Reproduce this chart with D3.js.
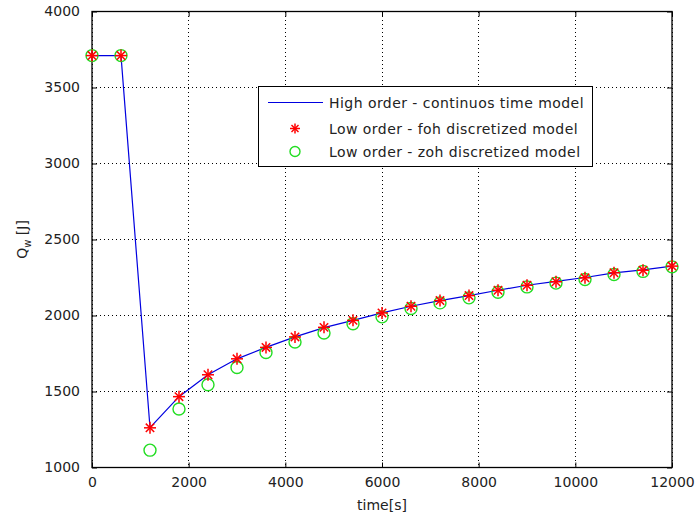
<!DOCTYPE html>
<html><head><meta charset="utf-8">
<script src="https://cdn.jsdelivr.net/npm/d3@7"></script>
<style>
body{margin:0;background:#fff;}
svg{display:block;font-family:"DejaVu Sans",sans-serif;}
</style></head>
<body><svg id="c" width="695" height="520"></svg>
<script>
// time points [s]
const times = [0,600,1200,1800,2400,3000,3600,4200,4800,5400,6000,6600,7200,7800,8400,9000,9600,10200,10800,11400,12000];
// High order - continuous time model
const highOrder = [3710,3710,1262,1466,1610,1715,1790,1859,1920,1968,2017,2061,2098,2131,2166,2199,2224,2250,2280,2300,2325];
// Low order - foh discretized
const fohValues = [3710,3710,1261,1466,1610,1715,1790,1859,1922,1968,2017,2061,2098,2131,2166,2199,2222,2248,2281,2298,2325];
// Low order - zoh discretized
const zohValues = [3710,3710,1114,1385,1544,1658,1757,1826,1885,1946,1991,2046,2083,2116,2153,2188,2213,2237,2270,2290,2320];
const xTicks = [0,2000,4000,6000,8000,10000,12000];
const yTicks = [1000,1500,2000,2500,3000,3500,4000];
const legendLabels = ["High order - continuos time model","Low order - foh discretized model","Low order - zoh discretized model"];

const svg = d3.select("#c");
const L=92,R=672,T=11.5,B=467.5;
const x = d3.scaleLinear().domain([0,12000]).range([L,R]);
const y = d3.scaleLinear().domain([1000,4000]).range([B,T]);
const fs = 14;
const ff = '"DejaVu Sans",sans-serif';

// grid
const g = svg.append("g");
g.selectAll(".gx").data(xTicks).enter().append("line")
 .attr("x1",d=>x(d)).attr("x2",d=>x(d)).attr("y1",T).attr("y2",B)
 .attr("stroke","#000").attr("stroke-width",1).attr("stroke-dasharray","1,3").attr("shape-rendering","crispEdges");
g.selectAll(".gy").data(yTicks).enter().append("line")
 .attr("y1",d=>y(d)).attr("y2",d=>y(d)).attr("x1",L).attr("x2",R)
 .attr("stroke","#000").attr("stroke-width",1).attr("stroke-dasharray","1,3").attr("shape-rendering","crispEdges");

// axes
const axB = d3.axisBottom(x).tickValues(xTicks).tickSizeInner(-5).tickSizeOuter(0).tickPadding(10).tickFormat(d3.format("d"));
const axL = d3.axisLeft(y).tickValues(yTicks).tickSizeInner(-5).tickSizeOuter(0).tickPadding(12).tickFormat(d3.format("d"));
const axT = d3.axisTop(x).tickValues(xTicks).tickSizeInner(-5).tickSizeOuter(0).tickFormat("");
const axR = d3.axisRight(y).tickValues(yTicks).tickSizeInner(-5).tickSizeOuter(0).tickFormat("");
function style(sel){
  sel.selectAll("path").remove();
  sel.selectAll("line").attr("stroke","#000");
  sel.selectAll("text").attr("fill","#222").style("font-size",fs+"px").style("font-family",ff);
}
svg.append("g").attr("transform",`translate(0,${B})`).call(axB).call(style);
svg.append("g").attr("transform",`translate(${L},0)`).call(axL).call(style);
svg.append("g").attr("transform",`translate(0,${T})`).call(axT).call(style);
svg.append("g").attr("transform",`translate(${R},0)`).call(axR).call(style);
svg.append("rect").attr("x",L).attr("y",T).attr("width",R-L).attr("height",B-T)
 .attr("fill","none").attr("stroke","#000").attr("stroke-width",1.3);

// line
svg.append("path").datum(times.map((t,i)=>[t,highOrder[i]]))
 .attr("d",d3.line().x(d=>x(d[0])).y(d=>y(d[1])))
 .attr("fill","none").attr("stroke","#0000e0").attr("stroke-width",1.2);

function star(sel,cx,cy,s){
  const gg = sel.append("g").attr("transform",`translate(${cx},${cy})`).attr("stroke","#ff0000").attr("stroke-width",1.5);
  gg.append("line").attr("x1",-s).attr("x2",s).attr("y1",0).attr("y2",0);
  gg.append("line").attr("x1",0).attr("x2",0).attr("y1",-s).attr("y2",s);
  const k=s*0.7;
  gg.append("line").attr("x1",-k).attr("x2",k).attr("y1",-k).attr("y2",k);
  gg.append("line").attr("x1",-k).attr("x2",k).attr("y1",k).attr("y2",-k);
}
// zoh circles
svg.append("g").selectAll("circle").data(times.map((t,i)=>[t,zohValues[i]])).enter().append("circle")
 .attr("cx",d=>x(d[0])).attr("cy",d=>y(d[1])).attr("r",6)
 .attr("fill","none").attr("stroke","#22dd22").attr("stroke-width",1.4);
// foh stars
const sg = svg.append("g");
times.forEach((t,i)=>star(sg,x(t),y(fohValues[i]),6));

// labels
svg.append("text").attr("x",x(6000)).attr("y",510).attr("text-anchor","middle")
 .style("font-size",fs+"px").style("font-family",ff).attr("fill","#222").text("time[s]");
const yl = svg.append("text").attr("transform",`translate(27,${(T+B)/2}) rotate(-90)`).attr("text-anchor","middle")
 .style("font-size",fs+"px").style("font-family",ff).attr("fill","#222");
yl.append("tspan").text("Q");
yl.append("tspan").attr("dy",4).style("font-size","10px").text("w");
yl.append("tspan").attr("dy",-4).text(" [J]");

// legend
const lg = svg.append("g");
lg.append("rect").attr("x",258.5).attr("y",86.5).attr("width",334).attr("height",80)
 .attr("fill","#fff").attr("stroke","#000").attr("stroke-width",1);
const rows=[102.5,128.5,151.5];
lg.append("line").attr("x1",268).attr("x2",323).attr("y1",rows[0]).attr("y2",rows[0]).attr("stroke","#0000e0").attr("stroke-width",1.2);
star(lg,295,rows[1],5);
lg.append("circle").attr("cx",295).attr("cy",rows[2]).attr("r",5).attr("fill","none").attr("stroke","#22dd22").attr("stroke-width",1.4);
legendLabels.forEach((s,i)=>lg.append("text").attr("x",329).attr("y",rows[i]+5).style("font-size",fs+"px").style("font-family",ff).style("letter-spacing","0.45px").attr("fill","#222").text(s));
</script></body></html>
